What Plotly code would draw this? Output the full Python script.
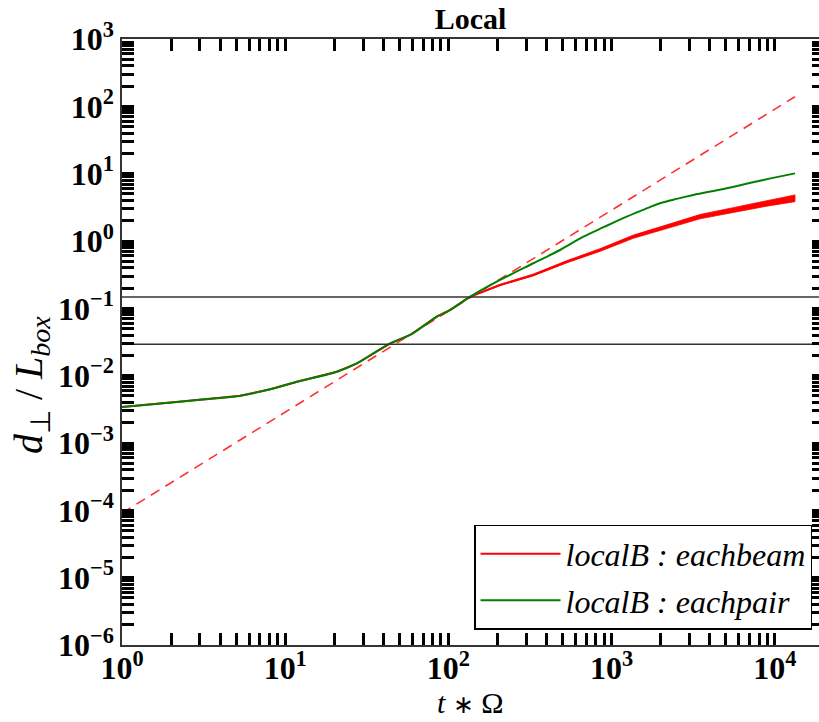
import plotly.graph_objects as go

# ---- data ----
t_green = [1.0, 1.80, 2.88, 5.30, 8.09, 11.8, 20.7, 27.5, 36.5, 44.0, 58.2, 84.9, 102, 136,
           207, 331, 483, 671, 900, 1236, 1600, 1977, 2500, 3162, 5070, 8490, 13270]
d_green = [0.00342, 0.00388, 0.00435, 0.00504, 0.00627, 0.00813, 0.01146, 0.01524, 0.02323,
           0.0302, 0.0402, 0.0752, 0.0944, 0.149, 0.264, 0.467, 0.735, 1.159, 1.62, 2.30,
           2.98, 3.63, 4.22, 4.82, 6.07, 8.05, 10.1]

t_red = [1.0, 1.80, 2.88, 5.30, 8.09, 11.8, 20.7, 27.5, 36.5, 44.0, 58.2, 84.9, 102, 136,
         207, 331, 531, 849, 1358, 2173, 3475, 5559, 8913, 13270]
d_red = [0.00342, 0.00388, 0.00435, 0.00504, 0.00627, 0.00813, 0.01146, 0.01524, 0.02323,
         0.0302, 0.0402, 0.0752, 0.0944, 0.149, 0.222, 0.313, 0.492, 0.735, 1.159, 1.63,
         2.30, 2.88, 3.63, 4.31]
# visible spread (noise envelope) of the red curve at late times
t_red_band = [136, 207, 331, 531, 849, 1358, 2173, 3475, 5559, 8913, 13270]
d_red_hi = [0.1507, 0.2261, 0.3218, 0.5104, 0.7696, 1.2248, 1.7386, 2.476, 3.129, 3.998, 4.836]
d_red_lo = [0.1473, 0.2179, 0.3045, 0.4742, 0.7019, 1.0967, 1.5282, 2.1365, 2.651, 3.2955, 3.841]

t_fit = [1.0, 13270]
d_fit = [9.1e-5, 139]

h_levels = [0.147, 0.0293]
t_span = [1.0, 18600]

x_major = [1, 10, 100, 1000, 10000]
x_major_text = ["10<sup>0</sup>", "10<sup>1</sup>", "10<sup>2</sup>", "10<sup>3</sup>", "10<sup>4</sup>"]
y_exps = [-6, -5, -4, -3, -2, -1, 0, 1, 2, 3]
y_major = [10.0 ** e for e in y_exps]
y_major_text = ["10<sup>%s</sup>" % (str(e).replace("-", "\u2212")) for e in y_exps]

x_minor = [m * 10.0 ** e for e in range(0, 5) for m in range(2, 10)]
y_minor = [m * 10.0 ** e for e in range(-6, 3) for m in range(2, 10)]

SERIF = "Liberation Serif"
fig = go.Figure()

fig.add_trace(go.Scatter(x=t_fit, y=d_fit, mode="lines", showlegend=False,
                         line=dict(color="#ff3030", width=1.6, dash="10px,7px")))
fig.add_trace(go.Scatter(x=t_red_band + t_red_band[::-1], y=d_red_hi + d_red_lo[::-1],
                         mode="lines", fill="toself", fillcolor="#ff0000",
                         line=dict(color="#ff0000", width=0.8), showlegend=False, hoverinfo="skip"))
fig.add_trace(go.Scatter(x=t_red, y=d_red, mode="lines", name="<i>localB</i> : <i>eachbeam</i>",
                         legendgroup="a", line=dict(color="#ff0000", width=2)))
fig.add_trace(go.Scatter(x=t_green, y=d_green, mode="lines", name="<i>localB</i> : <i>eachpair</i>",
                         legendgroup="b", line=dict(color="#008000", width=2),
                         line_shape="spline"))
for h in h_levels:
    fig.add_trace(go.Scatter(x=t_span, y=[h, h], mode="lines", showlegend=False,
                             line=dict(color="#333333", width=1.6)))
# helper trace for the right-hand tick axis
fig.add_trace(go.Scatter(x=[t_span[0]], y=[h_levels[0]], yaxis="y2", mode="markers",
                         marker=dict(opacity=0), showlegend=False, hoverinfo="skip"))

tickfont = dict(family=SERIF, size=32, color="black", weight="bold")
minor_x = dict(tickmode="array", tickvals=x_minor, ticks="inside", ticklen=12, tickwidth=2.5,
               tickcolor="black", showgrid=False)
minor_y = dict(tickmode="array", tickvals=y_minor, ticks="inside", ticklen=12, tickwidth=2.5,
               tickcolor="black", showgrid=False)

fig.update_layout(
    width=819, height=722,
    margin=dict(l=122, r=0, t=39, b=77),
    paper_bgcolor="white", plot_bgcolor="white",
    title=dict(text="Local", x=0.5, xref="paper", xanchor="center",
               y=1 - 18 / 722, yref="container", yanchor="middle",
               font=dict(family=SERIF, size=30, color="black", weight="bold")),
    xaxis=dict(type="log", range=[0, 4.27], showgrid=False, zeroline=False,
               showline=True, linecolor="#333333", linewidth=1.5, mirror="ticks",
               ticks="inside", ticklen=12, tickwidth=2.5, tickcolor="black",
               tickmode="array", tickvals=x_major, ticktext=x_major_text, tickfont=tickfont,
               ticklabelstandoff=-6, minor=minor_x),
    yaxis=dict(type="log", range=[-6, 3], showgrid=False, zeroline=False,
               showline=True, linecolor="#333333", linewidth=1.5,
               ticks="inside", ticklen=12, tickwidth=2.5, tickcolor="black",
               tickmode="array", tickvals=y_major, ticktext=y_major_text, tickfont=tickfont,
               minor=minor_y),
    yaxis2=dict(type="log", range=[-6, 3], overlaying="y", side="right", showgrid=False,
                zeroline=False, showline=False, showticklabels=False,
                ticks="inside", ticklen=7, tickwidth=2.5, tickcolor="black",
                tickmode="array", tickvals=y_major,
                minor=dict(tickmode="array", tickvals=y_minor, ticks="inside", ticklen=7,
                           tickwidth=2.5, tickcolor="black", showgrid=False)),
    legend=dict(x=0.99, xanchor="right", y=0.025, yanchor="bottom",
                bgcolor="white", bordercolor="black", borderwidth=1.5,
                font=dict(family=SERIF, size=32, color="black", style="italic"),
                itemwidth=80, tracegroupgap=2),
    showlegend=True,
)

# axis titles placed as annotations to match the reference positions
fig.add_annotation(text="<i>t</i> <span style='font-size:25px'>\u2217</span> \u03a9",
                   xref="paper", yref="paper", x=0.4993, y=-(702 - 645) / 606,
                   xanchor="center", yanchor="middle", showarrow=False,
                   font=dict(family=SERIF, size=30, color="black"))
fig.add_annotation(text="<i>d</i><sub>\u22a5</sub> / <i>L</i><sub><i>box</i></sub>",
                   xref="paper", yref="paper", x=-(122 - 31) / 697, y=0.429, textangle=-90,
                   xanchor="center", yanchor="middle", showarrow=False,
                   font=dict(family=SERIF, size=40, color="black"))

fig.write_html("out.html")
